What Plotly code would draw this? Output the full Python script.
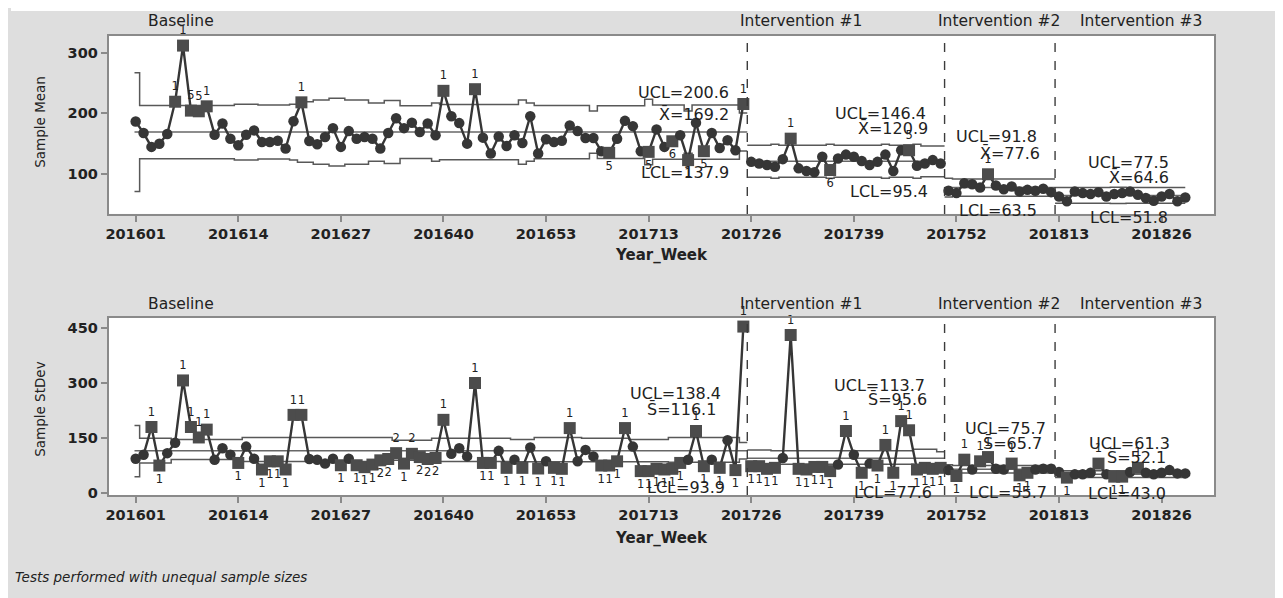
import plotly.graph_objects as go

# ---------------- data ----------------
weeks = ([f"2016{w:02d}" for w in range(1, 54)] +
         [f"2017{w:02d}" for w in range(1, 53)] +
         [f"2018{w:02d}" for w in range(1, 30)])
tick_weeks = ["201601", "201614", "201627", "201640", "201653", "201713",
              "201726", "201739", "201752", "201813", "201826"]

stage_names = ["Baseline", "Intervention #1", "Intervention #2", "Intervention #3"]
stage_start_weeks = ["201601", "201726", "201751", "201813"]

# Xbar chart
mean_values = [
    186.6, 167.6, 144.7, 150.0, 166.0, 219.3, 312.0, 204.6, 203.5, 211.7,
    164.9, 183.4, 158.3, 147.4, 164.9, 172.0, 152.9, 152.9, 155.0, 142.0,
    187.2, 218.3, 154.5, 149.0, 161.0, 175.7, 144.7, 170.8, 158.3, 161.0,
    158.3, 142.0, 167.6, 192.0, 175.7, 184.5, 169.2, 183.4, 163.8, 237.3,
    195.4, 184.0, 150.1, 240.0, 160.0, 133.8, 162.0, 146.3, 163.8, 151.2,
    195.4, 133.8, 157.2, 152.9, 155.0, 180.0, 170.8, 159.4, 159.4, 137.6,
    134.9, 158.3, 187.7, 179.0, 137.6, 136.5, 173.6, 144.7, 154.0, 163.8,
    122.9, 184.5, 137.6, 167.6, 143.0, 155.6, 139.2, 215.5,
    120.0, 117.4, 114.7, 112.0, 124.5, 158.3, 109.3, 105.0, 102.7, 128.3,
    106.5, 125.6, 132.0, 128.3, 121.3, 114.7, 120.0, 132.0, 105.0, 139.2,
    139.2, 113.6, 117.4, 122.9, 117.4,
    72.2, 68.4, 84.7, 83.0, 77.6, 99.5, 80.9, 74.9, 79.3, 71.1,
    73.8, 72.2, 75.5, 70.0,
    62.9, 54.8, 71.1, 68.4, 66.8, 70.0, 62.9, 66.8, 68.4, 71.1,
    65.7, 60.2, 55.9, 62.9, 66.8, 54.8, 61.3,
]
mean_center = [169.2, 120.9, 77.6, 64.6]
mean_ucl_label = [200.6, 146.4, 91.8, 77.5]
mean_lcl_label = [137.9, 95.4, 63.5, 51.8]
mean_limit_halfwidth = [
    98, 44, 44, 44, 44, 44, 44, 44, 44, 44, 44, 44, 44,
    46, 46, 46, 44.5, 44.5, 44.5, 44.5, 46, 50, 50,
    53, 53, 56, 56, 53, 53, 53, 48, 48, 52, 52,
    43.5, 43.5, 43.5, 43.5, 48,
    45.5, 45.5, 45.5, 45.5, 45.5, 45.5, 45.5, 45.5, 45.5, 45.5,
    53, 48, 44, 44, 44, 44, 44, 44, 44, 35,
    43.6, 43.6, 43.6, 43.6, 43.6, 43.6, 54, 44.7, 44.7, 44.7, 44.7, 35,
    44.7, 44.7, 44.7, 44.7, 44.7, 44.7, 31.4,
    26.5, 26.5, 26.5, 28, 26.5, 26.5, 26.5, 26.5, 26.5, 26.5, 28,
    26.5, 26.5, 26.5, 26.5, 26.5, 26.5, 28, 26.5, 26.5, 26.5, 28,
    25.5, 25.5, 25.5,
    15.5, 14.2, 14.2, 14.2, 14.2, 14.2, 14.2, 14.2, 14.2, 14.2, 14.2, 14.2, 14.2, 14.2,
    12.9, 12.9, 12.9, 12.9, 12.9, 12.9, 12.9, 13.5, 13.5, 12.9, 12.9, 12.9,
    12.9, 12.9, 12.9, 12.9, 12.9,
]
mean_flag_weeks = ["201606", "201607", "201608", "201609", "201610", "201622",
                   "201640", "201644", "201708", "201713", "201716", "201718",
                   "201720", "201725", "201731", "201736", "201746", "201804"]
mean_flag_text = ["1", "1", "5", "5", "1", "1", "1", "1", "5", "5", "6", "1",
                  "5", "1", "1", "6", "5", "1"]
mean_flag_side = ["top", "top", "top", "top", "top", "top", "top", "top",
                  "bottom", "bottom", "bottom", "bottom", "bottom", "top", "top",
                  "bottom", "top", "top"]

# S chart
sd_values = [
    94.5, 105.0, 181.0, 75.8, 109.6, 138.0, 308.0, 181.0, 152.4, 173.8,
    91.8, 123.0, 105.0, 82.9, 127.4, 94.5, 65.0, 87.3, 87.3, 65.0,
    214.0, 214.0, 93.6, 91.8, 81.1, 94.5, 76.6, 94.5, 76.6, 71.3,
    78.4, 90.0, 93.6, 109.6, 81.1, 107.8, 98.9, 93.6, 96.3, 200.5,
    107.8, 123.0, 100.7, 301.0, 82.9, 82.9, 115.9, 69.5, 91.8, 69.5,
    124.8, 67.7, 87.3, 69.5, 66.8, 178.0, 87.3, 118.5, 100.7, 75.8,
    75.8, 87.3, 178.0, 127.4, 60.6, 60.6, 66.8, 65.0, 66.8, 82.9,
    91.8, 170.0, 74.0, 91.8, 69.5, 145.0, 63.3, 455.0,
    74.0, 74.0, 66.8, 69.5, 96.3, 432.0, 66.8, 65.0, 72.0, 72.0,
    60.6, 78.4, 170.0, 105.0, 56.0, 81.1, 75.8, 132.0, 56.0, 197.0,
    172.0, 65.0, 69.5, 66.8, 69.5,
    63.3, 47.2, 91.8, 65.0, 87.3, 98.9, 66.8, 65.0, 81.1, 49.0,
    56.0, 65.0, 66.8, 66.8,
    58.0, 42.8, 51.7, 51.7, 56.0, 81.1, 51.7, 45.5, 45.5, 58.0,
    69.5, 56.0, 51.7, 56.0, 63.3, 54.4, 54.4,
]
sd_center = [116.1, 95.6, 65.7, 52.1]
sd_ucl_label = [138.4, 113.7, 75.7, 61.3]
sd_lcl_label = [93.9, 77.6, 55.7, 43.0]
sd_ucl_points = [
    185, 150, 150, 150, 150, 147, 147, 147, 147, 147, 147, 147, 147, 147,
    152, 152, 152, 152, 152, 152, 152, 152, 152, 152, 152, 152, 152, 152,
    152, 152, 152, 152, 152, 145, 145, 145, 145, 145,
    150, 150, 150, 150, 150, 150, 150, 150, 150, 150, 147, 147, 147,
    152, 152, 152, 152, 152, 152, 150, 150, 150, 150, 150, 150,
    147, 147, 147, 147, 147, 152, 152, 152, 152, 152, 152, 152, 152, 152, 138.4,
    118, 118, 118, 116, 116, 116, 116, 116, 116, 116, 116, 116, 116, 116,
    116, 116, 116, 116, 116, 116, 116, 120, 120, 120, 113.7,
    78, 75.7, 75.7, 75.7, 75.7, 75.7, 75.7, 75.7, 75.7, 75.7, 75.7, 75.7, 75.7, 75.7,
    61.3, 61.3, 61.3, 61.3, 61.3, 61.3, 61.3, 61.3, 61.3, 61.3, 61.3, 61.3,
    61.3, 61.3, 61.3, 61.3, 61.3,
]
sd_lcl_points = [
    45, 83, 83, 83, 83, 92, 92, 92, 92, 92, 92, 92, 92, 92,
    87, 87, 87, 87, 87, 87, 87, 87, 87, 87, 87, 87, 87, 87,
    87, 87, 87, 87, 87, 90, 90, 90, 90, 90,
    87, 87, 87, 87, 87, 87, 87, 87, 87, 87, 86, 86, 86,
    86, 86, 86, 86, 86, 86, 86, 86, 86, 86, 86, 86,
    86, 86, 86, 86, 86, 85, 85, 85, 85, 85, 85, 85, 85, 85, 93.9,
    78, 78, 78, 79, 79, 79, 79, 79, 79, 79, 79, 79, 79, 79,
    79, 79, 79, 79, 79, 79, 79, 76, 76, 76, 77.6,
    54, 55.7, 55.7, 55.7, 55.7, 55.7, 55.7, 55.7, 55.7, 55.7, 55.7, 55.7, 55.7, 55.7,
    43.0, 43.0, 43.0, 43.0, 43.0, 43.0, 43.0, 43.0, 43.0, 43.0, 43.0, 43.0,
    43.0, 43.0, 43.0, 43.0, 43.0,
]
sd_flag_weeks = [
    "201603", "201604", "201607", "201608", "201609", "201610", "201614", "201617",
    "201618", "201619", "201620", "201621", "201622", "201627", "201629", "201630",
    "201631", "201632", "201633", "201634", "201635", "201636", "201637", "201638",
    "201639", "201640", "201644", "201645", "201646", "201648", "201650", "201652",
    "201701", "201702", "201703", "201707", "201708", "201709", "201710", "201712",
    "201713", "201714", "201715", "201716", "201717", "201719", "201720", "201722",
    "201724", "201725",
    "201726", "201727", "201728", "201729", "201731", "201732", "201733", "201734",
    "201735", "201736", "201738", "201740", "201742", "201743", "201744", "201745",
    "201746", "201747", "201748", "201749", "201750",
    "201752", "201801", "201803", "201804", "201807", "201808", "201809",
    "201814", "201818", "201820", "201821", "201823",
]
sd_flag_text = (["1"] * 17 + ["2", "2", "2", "1", "2", "2", "2", "2"] + ["1"] * 58)
sd_flag_side = [
    "top", "bottom", "top", "top", "top", "top", "bottom", "bottom",
    "bottom", "bottom", "bottom", "top", "top", "bottom", "bottom", "bottom",
    "bottom", "bottom", "bottom", "top", "bottom", "top", "bottom", "bottom",
    "bottom", "top", "top", "bottom", "bottom", "bottom", "bottom", "bottom",
    "bottom", "bottom", "top", "bottom", "bottom", "bottom", "top", "bottom",
    "bottom", "bottom", "bottom", "bottom", "bottom", "top", "bottom", "bottom",
    "bottom", "top",
    "bottom", "bottom", "bottom", "bottom", "top", "bottom", "bottom", "bottom",
    "bottom", "bottom", "top", "bottom", "bottom", "top", "bottom", "top",
    "top", "bottom", "bottom", "bottom", "bottom",
    "bottom", "top", "top", "top", "top", "bottom", "bottom",
    "bottom", "top", "bottom", "bottom", "top",
]

# ---------------- helpers ----------------
PAGE_OFF = 8              # browser body margin
W, H = 1283 - PAGE_OFF, 598 - PAGE_OFF
FONT = "DejaVu Sans"
DARK = "#363636"
LIM = "#585858"
n_pts = len(mean_values)
x_idx = list(range(n_pts))
starts = [weeks.index(w) for w in stage_start_weeks]
ends = [s - 1 for s in starts[1:]] + [n_pts - 1]


def px(xp):
    return (xp - PAGE_OFF) / W


def py(yp):
    return 1 - (yp - PAGE_OFF) / H


fig = go.Figure()


def add_chart(values, centers, ucl_pts, lcl_pts, flag_weeks, flag_text, flag_side, xa, ya):
    for s, (a, b) in enumerate(zip(starts, ends)):
        x0 = a - 0.15 if s == 0 else a - 0.5
        x1 = b if s == len(starts) - 1 else b + 0.5
        xs = [x0] + [i + 0.5 for i in range(a, b)] + [x1]
        for arr in (ucl_pts, lcl_pts):
            ys = [arr[i] for i in range(a, b + 1)] + [arr[b]]
            fig.add_trace(go.Scatter(x=xs, y=ys, mode="lines",
                                     line=dict(color=LIM, width=1.5, shape="hv"),
                                     xaxis=xa, yaxis=ya, hoverinfo="skip", showlegend=False))
        fig.add_trace(go.Scatter(x=[x0, x1], y=[centers[s], centers[s]], mode="lines",
                                 line=dict(color="#676767", width=1.5), xaxis=xa, yaxis=ya,
                                 hoverinfo="skip", showlegend=False))
        fig.add_trace(go.Scatter(x=x_idx[a:b + 1], y=values[a:b + 1], mode="lines",
                                 line=dict(color=DARK, width=2.4), xaxis=xa, yaxis=ya,
                                 hoverinfo="skip", showlegend=False))
    flag_idx = [weeks.index(w) for w in flag_weeks]
    symbols, sizes, colors, texts, tpos = [], [], [], [], []
    for i in range(n_pts):
        if i in flag_idx:
            k = flag_idx.index(i)
            symbols.append("square")
            sizes.append(12)
            colors.append("#4c4c4c")
            texts.append(flag_text[k])
            tpos.append(flag_side[k] + " center")
        else:
            symbols.append("circle")
            sizes.append(10.5)
            colors.append(DARK)
            texts.append("")
            tpos.append("top center")
    fig.add_trace(go.Scatter(x=x_idx, y=values, mode="markers+text",
                             marker=dict(symbol=symbols, size=sizes, color=colors,
                                         opacity=1, line=dict(width=0)),
                             text=texts, textposition=tpos,
                             textfont=dict(family=FONT, size=11.5, color="#222222"),
                             cliponaxis=False, xaxis=xa, yaxis=ya, showlegend=False))


mean_ucl_pts, mean_lcl_pts = [], []
for s, (a, b) in enumerate(zip(starts, ends)):
    for i in range(a, b + 1):
        mean_ucl_pts.append(mean_center[s] + mean_limit_halfwidth[i])
        mean_lcl_pts.append(mean_center[s] - mean_limit_halfwidth[i])

add_chart(mean_values, mean_center, mean_ucl_pts, mean_lcl_pts,
          mean_flag_weeks, mean_flag_text, mean_flag_side, "x", "y")
add_chart(sd_values, sd_center, sd_ucl_points, sd_lcl_points,
          sd_flag_weeks, sd_flag_text, sd_flag_side, "x2", "y2")

shapes = []
for s in starts[1:]:
    for xa, ya in (("x", "y"), ("x2", "y2")):
        shapes.append(dict(type="line", xref=xa, yref=ya + " domain", x0=s - 0.5, x1=s - 0.5,
                           y0=0, y1=1, line=dict(color="#3c3c3c", width=1.4, dash="dash")))
shapes.append(dict(type="rect", xref="paper", yref="paper", x0=0, x1=1, y0=py(11), y1=1,
                   fillcolor="white", line=dict(width=0), layer="below"))

ann = []


def text(t, xp, yp, size=15, xanchor="center", angle=0, bold=False, italic=False):
    ann.append(dict(text=t, x=px(xp), y=py(yp), xref="paper", yref="paper", showarrow=False,
                    xanchor=xanchor, yanchor="middle", textangle=angle,
                    font=dict(family=FONT, size=size, color="#222222",
                              weight="bold" if bold else "normal",
                              style="italic" if italic else "normal")))


stage_label_x = [178, 800, 998, 1141]
for name, xc in zip(stage_names, stage_label_x):
    text(name, xc, 21, size=15.5)
    text(name, xc, 307, size=15.5)

XB = "X\u0304"
SB = "S\u0304"
mean_lbl_pos = [((730, 93), (730, 116), (730, 174)),
                ((927, 115), (929, 130), (929, 193)),
                ((1038, 138), (1041, 155), (1038, 213)),
                ((1171, 164), (1171, 179), (1170, 220))]
for s in range(4):
    (ux, uy), (cx, cy), (lx, ly) = mean_lbl_pos[s]
    text(f"UCL={mean_ucl_label[s]:.1f}", ux, uy, size=16, xanchor="right")
    text(f"{XB}={mean_center[s]:.1f}", cx, cy, size=16, xanchor="right")
    text(f"LCL={mean_lcl_label[s]:.1f}", lx, ly, size=16, xanchor="right")

sd_lbl_pos = [((722, 397), (717, 414), (726, 492)),
              ((926, 389), (928, 404), (933, 497)),
              ((1047, 433), (1043, 448), (1048, 497)),
              ((1172, 448), (1168, 462), (1168, 498))]
for s in range(4):
    (ux, uy), (cx, cy), (lx, ly) = sd_lbl_pos[s]
    text(f"UCL={sd_ucl_label[s]:.1f}", ux, uy, size=16, xanchor="right")
    text(f"{SB}={sd_center[s]:.1f}", cx, cy, size=16, xanchor="right")
    text(f"LCL={sd_lcl_label[s]:.1f}", lx, ly, size=16, xanchor="right")

text("Sample Mean", 37, 123, size=13.5, angle=-90)
text("Sample StDev", 37, 413, size=13.5, angle=-90)
text("Year_Week", 660, 258, size=15, bold=True)
text("Year_Week", 660, 543, size=15, bold=True)
text("Tests performed with unequal sample sizes", 10, 583, size=13.5, xanchor="left", italic=True)

tickvals = [weeks.index(w) for w in tick_weeks]
x_dom = [px(106), px(1214)]
xcommon = dict(domain=x_dom, range=[-3.41, 136.66], tickvals=tickvals, ticktext=tick_weeks,
               showline=True, mirror=True, linecolor="#8a8a8a", linewidth=2,
               ticks="outside", ticklen=6, tickcolor="#8a8a8a", tickwidth=1.5,
               showgrid=False, zeroline=False,
               tickfont=dict(family=FONT, size=14.5, color="#222222", weight="bold"))
ycommon = dict(showline=True, mirror=True, linecolor="#8a8a8a", linewidth=2,
               ticks="outside", ticklen=6, tickcolor="#8a8a8a", tickwidth=1.5,
               showgrid=False, zeroline=False,
               tickfont=dict(family=FONT, size=14.5, color="#222222", weight="bold"))

fig.update_layout(
    width=W, height=H, margin=dict(l=0, r=0, t=0, b=0),
    paper_bgcolor="#dedede", plot_bgcolor="white", showlegend=False,
    xaxis=dict(anchor="y", **xcommon),
    yaxis=dict(anchor="x", domain=[py(216), py(36)], range=[34.1, 328.3],
               tickvals=[100, 200, 300], **ycommon),
    xaxis2=dict(anchor="y2", **xcommon),
    yaxis2=dict(anchor="x2", domain=[py(500), py(320.7)], range=[-4.6, 479.7],
                tickvals=[0, 150, 300, 450], **ycommon),
    shapes=shapes, annotations=ann,
)

fig.write_html("out.html")
